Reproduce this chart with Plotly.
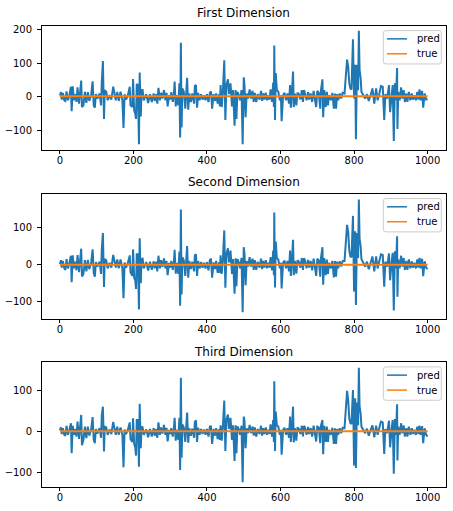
import plotly.graph_objects as go

# sample index shared by the three "pred" series
steps = [
    0, 3, 5, 8, 12, 15, 18, 22, 26, 30,
    32, 35, 38, 42, 45, 48, 52, 55, 58, 60,
    64, 68, 72, 76, 80, 85, 89, 92, 95, 98,
    102, 108, 112, 114, 117, 120, 122, 126, 130, 135,
    140, 145, 148, 152, 156, 160, 165, 170, 173, 176,
    180, 185, 190, 192, 197, 199, 202, 205, 207, 209,
    212, 215, 217, 220, 222, 225, 228, 235, 240, 245,
    250, 255, 258, 262, 265, 268, 272, 275, 279, 283,
    287, 290, 293, 297, 300, 303, 307, 310, 312, 315,
    318, 322, 325, 327, 329, 331, 333, 337, 341, 344,
    346, 349, 352, 356, 360, 365, 367, 370, 373, 376,
    380, 384, 388, 392, 396, 400, 404, 408, 411, 414,
    418, 422, 425, 429, 433, 435, 437, 440, 443, 447,
    450, 453, 457, 460, 464, 468, 471, 475, 478, 480,
    483, 487, 490, 494, 497, 500, 502, 505, 508, 512,
    516, 520, 524, 527, 530, 534, 538, 543, 547, 550,
    553, 556, 560, 563, 566, 570, 573, 577, 580, 582,
    583, 585, 587, 590, 594, 598, 601, 603, 607, 611,
    615, 619, 623, 626, 628, 631, 634, 636, 639, 643,
    646, 650, 654, 658, 661, 664, 667, 671, 675, 678,
    682, 686, 690, 694, 697, 700, 704, 708, 710, 714,
    716, 719, 723, 726, 729, 732, 737, 741, 745, 748,
    751, 754, 757, 761, 765, 769, 774, 781, 784, 787,
    790, 793, 797, 800, 803, 805, 808, 811, 813, 815,
    818, 820, 825, 830, 835, 840, 845, 850, 855, 860,
    864, 868, 873, 878, 882, 885, 890, 895, 898, 902,
    905, 908, 911, 914, 917, 918, 920, 924, 928, 931,
    935, 938, 942, 945, 949, 953, 957, 960, 964, 968,
    972, 975, 978, 981, 985, 988, 992, 996, 1000,
]

pred_first = [
    4, 14, -8, 12, -10, -12, 16, -10, 5, 30,
    -42, 31, -10, 8, -15, 28, -20, 28, 48, -30,
    -25, 15, -18, 14, -12, 5, 46, -25, -32, 8,
    -5, 10, -25, 45, 106, -65, 20, 15, -10, 5,
    -8, 30, 10, -10, 15, -12, 15, -10, -92, 8,
    -8, 5, 30, -25, -30, 53, -40, -50, -65, 38,
    35, -140, 72, -58, 20, 20, -10, 8, -18, 8,
    -15, 10, -12, 8, -20, 27, -10, 12, -5, 20,
    -10, 12, -28, 5, -8, 14, -15, 8, 45, -28,
    5, -25, 40, -120, 160, -90, 25, 15, -35, 52,
    56, -38, 10, -15, 10, -20, 32, 35, -32, 12,
    -10, 8, -8, 5, -10, 8, -15, 12, 16, -35,
    8, -12, 10, -20, 8, -28, 35, -30, 10, 108,
    -68, 35, 52, 8, 40, -28, 20, -85, 20, -65,
    15, 5, -10, 20, -140, 58, 35, -60, 10, -5,
    22, -5, 18, -15, 12, -15, 8, -8, 18, -12,
    10, -8, 12, -10, 5, -8, 22, -15, 42, -30,
    152, -68, 70, 20, 15, -10, 5, -72, 5, 12,
    -10, 10, -20, 35, -32, 10, 75, -30, 10, -25,
    12, 8, -8, 20, -15, 20, 10, -10, 14, -8,
    10, -15, 18, -10, -30, 18, 12, -35, 20, 52,
    -60, 20, -30, 15, -25, 5, -10, 12, -35, 10,
    -35, 8, -10, 10, -5, 12, 10, 110, 90, 40,
    25, 22, 170, -5, 95, -125, 95, 20, 195, 80,
    55, 15, 5, -5, 8, -12, 5, 25, -20, 25,
    -10, 5, 32, 30, -68, 8, -5, 35, -45, 5,
    35, -130, 40, -10, 85, -95, 15, -10, 28, -5,
    20, -15, 10, -15, 15, -10, 10, -8, 5, -10,
    15, -8, 22, -10, 18, -32, 10, -8, -8,
]

pred_second = [
    2, 12, -8, 10, -10, -14, 15, -10, 5, 24,
    -47, 25, -10, 8, -15, 26, -20, 22, 43, -32,
    -25, 12, -18, 13, -12, 5, 41, -22, -32, 7,
    -5, 8, -25, 43, 85, -60, 15, 12, -10, 5,
    -8, 26, 10, -8, 14, -10, 14, -10, -90, 6,
    -8, 5, 25, -20, -30, 41, -35, -42, -65, 28,
    28, -120, 71, -50, 15, 16, -10, 7, -16, 8,
    -14, 9, -10, 8, -18, 24, -10, 12, -6, 17,
    -10, 10, -28, 5, -8, 10, -14, 8, 40, -24,
    5, -25, 35, -110, 148, -80, 20, 12, -30, 46,
    50, -35, 10, -12, 8, -18, 25, 28, -30, 10,
    -10, 7, -8, 5, -10, 7, -15, 13, 14, -35,
    6, -12, 10, -22, 7, -22, 25, -25, 10, 92,
    -62, 30, 44, 6, 38, -25, 15, -78, 17, -58,
    15, 5, -10, 18, -128, 47, 30, -55, 10, -5,
    20, -5, 16, -14, 12, -14, 8, -8, 16, -12,
    10, -8, 12, -10, 5, -8, 20, -15, 38, -28,
    140, -61, 62, 18, 14, -10, 5, -64, 5, 11,
    -10, 10, -18, 38, -30, 10, 67, -28, 10, -24,
    12, 8, -8, 18, -14, 18, 10, -10, 13, -8,
    10, -15, 16, -10, -30, 16, 12, -32, 18, 47,
    -54, 18, -28, 14, -25, 5, -10, 10, -34, 10,
    -32, 8, -10, 9, -5, 10, 10, 107, 88, 38,
    22, 20, 131, -72, 90, -108, 85, 18, 175, 70,
    48, 15, 5, -5, 8, -12, 5, 22, -18, 22,
    -10, 5, 28, 26, -59, 8, -5, 30, -42, 5,
    32, -123, 36, -10, 76, -86, 14, -10, 24, -5,
    18, -14, 10, -14, 14, -10, 9, -8, 5, -10,
    14, -8, 18, -10, 16, -31, 9, -8, -12,
]

pred_third = [
    3, 10, -6, 8, -8, -10, 14, -8, 5, 20,
    -52, 14, -8, 6, -12, 24, -18, 26, 40, -33,
    -20, 12, -16, 12, -10, 5, 35, -20, -28, 6,
    -5, 8, -15, 40, 60, -48, 12, 10, -8, 5,
    -6, 23, 8, -8, 12, -8, 10, -8, -86, 5,
    -6, 5, 22, -18, -25, 32, -30, -38, -58, 28,
    28, -85, 67, -40, 12, 10, -8, 5, -14, 6,
    -12, 8, -10, 6, -15, 22, -8, 10, -5, 16,
    -8, 9, -24, 4, -6, 8, -12, 7, 33, -22,
    4, -20, 33, -93, 130, -63, 17, 10, -25, 42,
    46, -27, 8, -10, 7, -15, 23, 27, -25, 9,
    -8, 6, -6, 5, -8, 6, -12, 12, 12, -30,
    6, -10, 8, -18, 6, -20, 15, -22, 9, 75,
    -47, 28, 41, 6, 33, -20, 15, -71, 15, -52,
    12, 5, -8, 14, -122, 36, 25, -40, 8, -4,
    16, -4, 12, -10, 10, -12, 6, -6, 14, -10,
    8, -6, 10, -8, 4, -6, 17, -12, 28, -25,
    121, -47, 48, 15, 12, -8, 4, -56, 4, 9,
    -8, 8, -15, 36, -25, 8, 60, -26, 8, -22,
    10, 6, -6, 14, -12, 14, 8, -8, 11, -6,
    8, -12, 14, -8, -24, 12, 10, -28, 14, 28,
    -55, 14, -25, 12, -25, 4, -8, 9, -30, 8,
    -30, 6, -8, 8, -4, 9, 8, 98, 75, 32,
    20, 18, 100, -82, 80, -88, 70, 15, 154, 60,
    42, 12, 4, -4, 7, -10, 4, 15, -14, 14,
    -8, 4, 24, 22, -54, 6, -4, 26, -38, 4,
    28, -102, 30, -8, 66, -70, 12, -8, 20, -4,
    15, -12, 8, -12, 12, -8, 8, -6, 4, -8,
    12, -6, 14, -8, 13, -28, 8, -8, -12,
]

true_steps = [0, 250, 500, 750, 1000]
true_first = [2, 2, 2, 2, 2]
true_second = [0, 0, 0, 0, 0]
true_third = [1, 1, 1, 1, 1]

titles = ["First Dimension", "Second Dimension", "Third Dimension"]
preds = [pred_first, pred_second, pred_third]
trues = [true_first, true_second, true_third]
y_tick_vals = [[-100, 0, 100, 200], [-100, 0, 100], [-100, 0, 100]]

WIDTH, HEIGHT = 453, 511
PLOT_LEFT, PLOT_RIGHT = 41.5, 446.0
# top/bottom pixel of each panel and its y range
PANELS = [(23.7, 148.3), (192.3, 318.3), (361.3, 487.0)]
Y_RANGES = [[-156, 210.5], [-146, 191], [-134, 168]]
TITLE_SHIFTS = [4, 3, 1]

BLUE = "#1f77b4"
ORANGE = "#ff7f0e"
FONT = "DejaVu Sans"


def px_x(px):
    return px / WIDTH


def px_y(px):
    return 1 - px / HEIGHT


def rounded_box(x0, y0, x1, y1, r=2.5):
    # svg path in paper coordinates, plotly legends have no rounded corners
    rx, ry = r / WIDTH, r / HEIGHT
    left, right = px_x(x0), px_x(x1)
    top, bottom = px_y(y0), px_y(y1)
    return (f"M {left + rx} {top} L {right - rx} {top} Q {right} {top} {right} {top - ry} "
            f"L {right} {bottom + ry} Q {right} {bottom} {right - rx} {bottom} "
            f"L {left + rx} {bottom} Q {left} {bottom} {left} {bottom + ry} "
            f"L {left} {top - ry} Q {left} {top} {left + rx} {top} Z")


fig = go.Figure()
annotations = []
shapes = []

for i in range(3):
    suffix = "" if i == 0 else str(i + 1)
    top, bottom = PANELS[i]

    fig.add_trace(go.Scatter(x=steps, y=preds[i], mode="lines", name="pred",
                             line=dict(color=BLUE, width=2),
                             xaxis="x" + suffix, yaxis="y" + suffix))
    fig.add_trace(go.Scatter(x=true_steps, y=trues[i], mode="lines", name="true",
                             line=dict(color=ORANGE, width=2),
                             xaxis="x" + suffix, yaxis="y" + suffix))

    axis_style = dict(showline=True, mirror=True, linecolor="black", linewidth=0.8,
                      ticks="outside", ticklen=3.5, tickwidth=0.8, tickcolor="black",
                      showgrid=False, zeroline=False,
                      tickfont=dict(family=FONT, size=10, color="black"))
    fig.update_layout({
        "xaxis" + suffix: dict(axis_style,
                               domain=[px_x(PLOT_LEFT), px_x(PLOT_RIGHT)],
                               anchor="y" + suffix, range=[-50, 1050],
                               tickvals=[0, 200, 400, 600, 800, 1000],
                               ticklabelstandoff=-2),
        "yaxis" + suffix: dict(axis_style,
                               domain=[px_y(bottom), px_y(top)],
                               anchor="x" + suffix, range=Y_RANGES[i],
                               tickvals=y_tick_vals[i],
                               ticklabelstandoff=3),
    })

    annotations.append(dict(text=titles[i], xref="paper", yref="paper",
                            x=px_x((PLOT_LEFT + PLOT_RIGHT) / 2), xanchor="center",
                            y=px_y(top), yanchor="bottom", yshift=TITLE_SHIFTS[i],
                            showarrow=False,
                            font=dict(family=FONT, size=12, color="black")))

    # legend box drawn by hand to get the compact matplotlib look
    shapes.append(dict(type="path", xref="paper", yref="paper",
                       path=rounded_box(383.3, top + 5, 441.3, top + 38.5),
                       fillcolor="rgba(255,255,255,0.8)",
                       line=dict(color="#cccccc", width=1)))
    for row, (label, color) in enumerate([("pred", BLUE), ("true", ORANGE)]):
        row_y = top + 13.3 + 15 * row
        shapes.append(dict(type="line", xref="paper", yref="paper",
                           x0=px_x(387), x1=px_x(407), y0=px_y(row_y), y1=px_y(row_y),
                           line=dict(color=color, width=1.5)))
        annotations.append(dict(text=label, xref="paper", yref="paper",
                                x=px_x(415.5), xanchor="left",
                                y=px_y(row_y), yanchor="middle", showarrow=False,
                                xshift=-1,
                                font=dict(family=FONT, size=10, color="black")))

fig.update_layout(width=WIDTH, height=HEIGHT, autosize=False,
                  margin=dict(l=0, r=0, t=0, b=0),
                  paper_bgcolor="white", plot_bgcolor="white",
                  showlegend=False, annotations=annotations, shapes=shapes)

# the default page has an 8px body margin, the chart has to sit at the very corner
fig.write_html("out.html", post_script="document.body.style.margin = '0';",
               config=dict(displayModeBar=False))
